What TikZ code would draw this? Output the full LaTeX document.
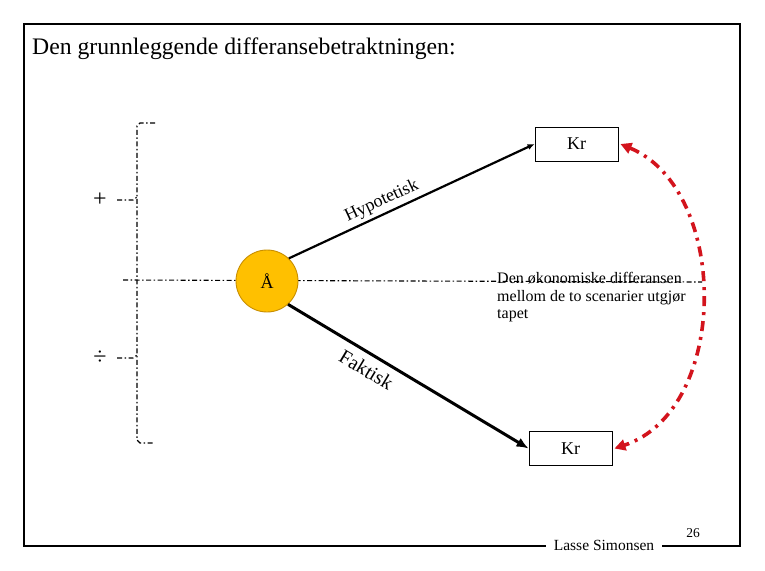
\documentclass[tikz,border=0pt]{standalone}
\usepackage{fontspec}
\setmainfont{Liberation Serif}
\usetikzlibrary{positioning,arrows.meta,calc}
\definecolor{gul}{HTML}{FFC000}
\definecolor{gulkant}{HTML}{C88E00}
\definecolor{rod}{HTML}{D3141D}

\begin{document}
\begin{tikzpicture}[x=1pt,y=-1pt,
  krbox/.style={draw, line width=0.9pt, minimum width=83pt, minimum height=34pt, inner sep=0pt, font=\fontsize{18}{20}\selectfont},
  punkt/.style={circle, draw=gulkant, line width=0.9pt, fill=gul, minimum size=62pt, inner sep=0pt, font=\fontsize{18}{20}\selectfont},
  edge/.style={-{Latex[length=7pt,width=6pt]}, line width=2.2pt},
  strekpunkt/.style={line width=1.1pt, dash pattern=on 5pt off 2.5pt on 1.5pt off 2.5pt},
  diff/.style={{Triangle[length=11pt,width=11pt]}-{Triangle[length=11pt,width=11pt]}, rod, line width=3.6pt, dash pattern=on 10pt off 6pt on 3pt off 6pt}
]
  \useasboundingbox[fill=white] (0,0) rectangle (765,570);
  \draw[line width=1.4pt] (24,24) rectangle (740,546);

  \node[anchor=base west, font=\fontsize{23.7}{26}\selectfont, inner sep=0pt] (tittel) at (32,54) {Den grunnleggende differansebetraktningen:};

  % klammen til venstre
  \node[font=\fontsize{24}{26}\selectfont, inner sep=0pt] (pluss) at (100,200) {+};
  \node[font=\fontsize{24}{26}\selectfont, inner sep=0pt] (minus) at (100,358) {÷};
  \draw[strekpunkt] (155,123) -- (140,123) -- (137,126) -- (137,440) -- (140,443) -- (155,443);
  \draw[strekpunkt] (117,200) -- (133,200) -- (137,197);
  \draw[strekpunkt] (117,358) -- (133,358) -- (137,355);
  \draw[strekpunkt] (123,280) -- (702,282);

  \node[punkt] (A) at (267,281) {Å};
  \node[krbox] (krtopp) at (576.5,144) {Kr};
  \node[krbox] (krbunn) at (570.5,448.5) {Kr};

  \draw[edge] (A.46) -- node[pos=0.40, sloped, above, font=\fontsize{18}{20}\selectfont] {Hypotetisk} (krtopp.west);
  \draw[edge, line width=3pt, -{Latex[length=12pt,width=10pt]}] (A.-48) -- node[pos=0.36, sloped, below=4pt, font=\fontsize{20}{22}\selectfont] {Faktisk} (krbunn.west);

  \node[anchor=north west, align=left, inner sep=0pt, font=\fontsize{16}{17.5}\selectfont] (tekst) at (497,272.5)
    {Den økonomiske differansen\\ mellom de to scenarier utgjør\\ tapet};

  \draw[diff] ($(krtopp.east)+(2,0)$) .. controls (730,190) and (730,410) .. ($(krbunn.east)+(2,0)$);

  \node[fill=white, inner xsep=8pt, inner ysep=1pt, font=\fontsize{15.5}{17}\selectfont] (navn) at (604,545) {Lasse Simonsen};
  \node[anchor=base, inner sep=0pt, font=\fontsize{13.5}{15}\selectfont] (side) at (693,537) {26};
\end{tikzpicture}
\end{document}
